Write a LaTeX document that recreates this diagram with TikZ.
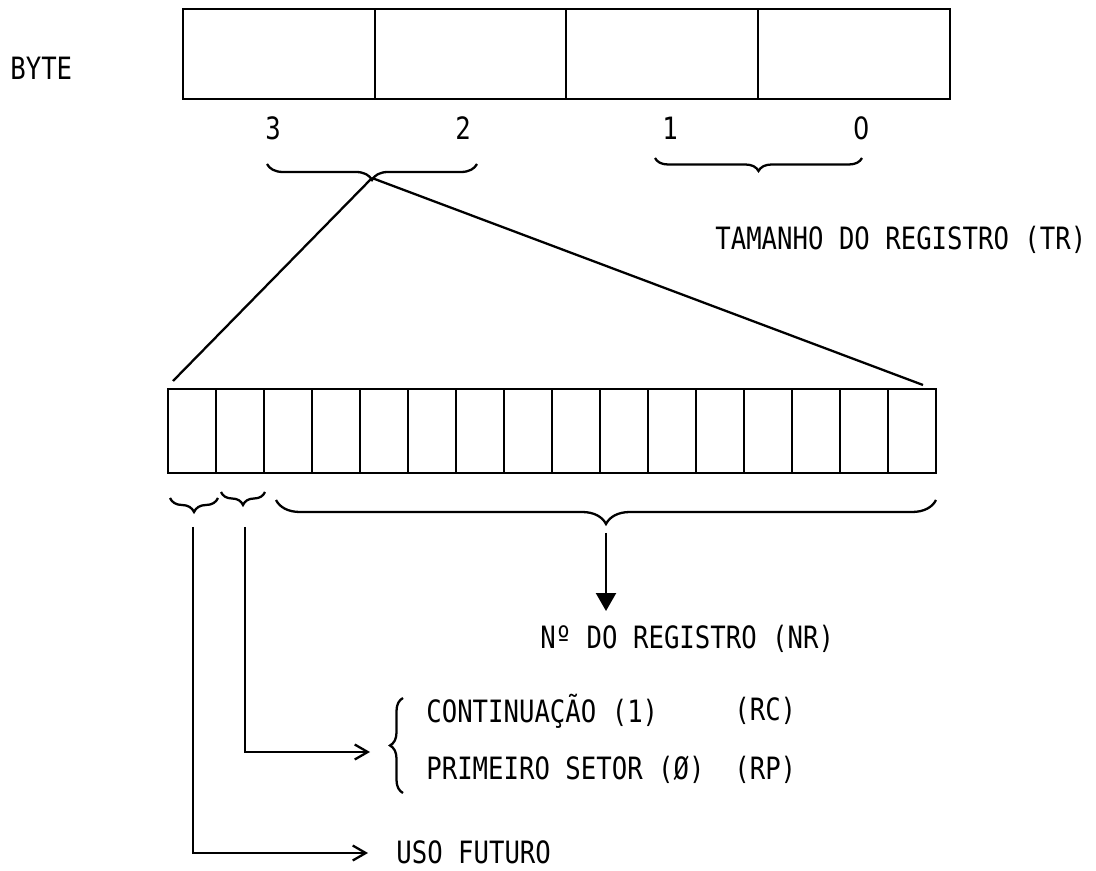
\documentclass[tikz,border=0pt]{standalone}
\usepackage{fontspec}
\setmonofont{DejaVu Sans Mono}[FakeStretch=0.835]
\newfontfamily\plainzero{DejaVu Sans}[FakeStretch=0.835]
\usetikzlibrary{arrows.meta,decorations.pathreplacing}
\begin{document}
\begin{tikzpicture}[x=0.02cm,y=-0.02cm,
  txt/.style={font=\ttfamily\fontsize{17.5}{20}\selectfont, inner sep=0pt},
  lbl/.style={txt, anchor=west},
  bigcell/.style={draw, line width=1.2pt, outer sep=0pt, minimum width=3.835cm, minimum height=1.8cm, anchor=north west},
  smallcell/.style={draw, line width=1.2pt, outer sep=0pt, minimum width=0.96cm, minimum height=1.68cm, anchor=north west},
  conn/.style={line width=1.3pt},
  openarrow/.style={conn, -{Straight Barb[length=0.26cm, width=0.3cm, line width=1.3pt]}},
  fillarrow/.style={conn, -{Triangle[length=0.36cm, width=0.4cm]}},
  brc/.style={line width=1.3pt, decorate, decoration={brace, amplitude=#1}},
  mbrc/.style={line width=1.3pt, decorate, decoration={brace, mirror, amplitude=#1}}
]
\useasboundingbox (0,0) rectangle (1096,871);

% BYTE label
\node[lbl] (byte) at (10,68) {BYTE};

% top byte box
\node[bigcell] (c3) at (183,9) {};
\node[bigcell] (c2) at (c3.north east) {};
\node[bigcell] (c1) at (c2.north east) {};
\node[bigcell] (c0) at (c1.north east) {};

\node[txt] (d3) at (273,128) {3};
\node[txt] (d2) at (463,128) {2};
\node[txt] (d1) at (670,128) {1};
\node[txt] (d0) at (862,128) {\plainzero 0};

% braces below byte
\draw[mbrc=0.32cm] (267,164) -- (477,164);
\coordinate (t1) at (372,178);
\draw[mbrc=0.26cm] (655,158) -- (862,158);
\coordinate (t2) at (758,171);

\node[lbl] (tr) at (715,240) {TAMANHO DO REGISTRO (TR)};

% bottom 16-bit box
\node[smallcell] (s0) at (168,389) {};
\foreach \i [evaluate=\i as \p using int(\i-1)] in {1,...,15} {
  \node[smallcell] (s\i) at (s\p.north east) {};
}

% expansion lines
\coordinate (e1) at (173,381);
\coordinate (e2) at (923,385);
\draw[conn] (t1) -- (e1);
\draw[conn] (t1) -- (e2);

% braces below 16-bit box
\draw[mbrc=0.28cm] (170,498) -- (218,498);
\coordinate (ta) at (193,527);
\draw[mbrc=0.26cm] (221,492) -- (265,492);
\coordinate (tb) at (245,527);
\draw[mbrc=0.48cm] (276,500) -- (936,500);
\coordinate (tc) at (606,533);

% NR arrow
\node[lbl] (nr) at (540,639) {Nº DO REGISTRO (NR)};
\coordinate (nrtop) at (606,611);
\draw[fillarrow] (tc) -- (nrtop);

% RC / RP
\draw[brc=0.26cm] (403,793) -- (403,698);
\coordinate (bt) at (370,752);
\node[lbl] (rc) at (426,711) {CONTINUAÇÃO (1)};
\node[lbl] (rp) at (426,770) {PRIMEIRO SETOR (Ø)};
\node[lbl] (rcc) at (734,711) {(RC)};
\node[lbl] (rpp) at (734,770) {(RP)};
\coordinate (bcorner) at (245,752);
\draw[openarrow] (tb) -- (bcorner) -- (bt);

% USO FUTURO
\node[lbl] (uso) at (396,852) {USO FUTURO};
\coordinate (acorner) at (193,853);
\coordinate (at) at (368,853);
\draw[openarrow] (ta) -- (acorner) -- (at);
\end{tikzpicture}
\end{document}
